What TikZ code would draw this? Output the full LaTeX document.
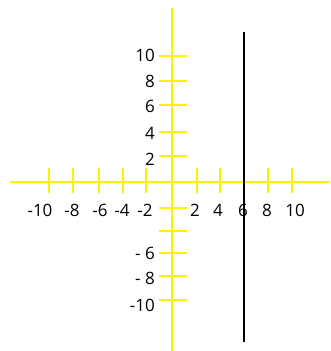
\documentclass[tikz,border=0pt]{standalone}
\usepackage{fontspec}
\setmainfont{Open Sans}
\usepackage{tikz}

\begin{document}
\begin{tikzpicture}[x=1pt, y=-1pt, every node/.style={font=\fontsize{17}{19}\selectfont, inner sep=1pt}, axis/.style={yellow, line width=2pt}]
	\useasboundingbox (0,0) rectangle (330,351);
	\draw[axis] (10,182) -- (330,182);
	\draw[axis] (172,8) -- (172,351);
	\foreach \x in {49,73,99,123,146,197,220,244,268,292} {\draw[axis] (\x,168) -- (\x,193);}
	\foreach \y in {56,81,105,132,156,208,231,253,276,300} {\draw[axis] (159,\y) -- (187,\y);}
	\foreach \x/\l [count=\i] in {40/-10,72/-8,100/-6,122/-4,145/-2,195/2,218/4,243/6,267/8,295/10} {\node (xl\i) at (\x,210) {\l};}
	\foreach \y/\l [count=\i] in {55/10,81/8,106/6,133/4,159/2,253/- 6,278/- 8,305/-10} {\node[anchor=east] (yl\i) at (156,\y) {\l};}
	\draw[line width=2pt] (244,32) -- (244,342);
\end{tikzpicture}
\end{document}
